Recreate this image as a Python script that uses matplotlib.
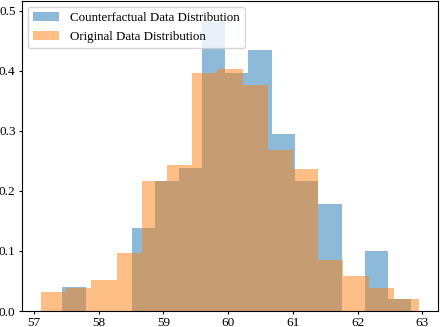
import matplotlib
matplotlib.use("Agg")
import matplotlib.pyplot as plt
import numpy as np

plt.rcParams['font.family'] = ['Liberation Serif', 'DejaVu Serif']

# Counterfactual histogram (density), 15 bins
cf_start = 57.44
cf_end = 62.83
cf_heights = [0.0395, 0.0, 0.0, 0.138, 0.217, 0.238, 0.481, 0.396, 0.434,
              0.295, 0.217, 0.178, 0.0, 0.0995, 0.02]

# Original histogram (density), 15 bins
orig_start = 57.11
orig_end = 62.95
orig_heights = [0.032, 0.038, 0.0517, 0.096, 0.217, 0.243, 0.396, 0.403, 0.377,
                0.268, 0.236, 0.085, 0.058, 0.039, 0.02]

labels = ["Counterfactual Data Distribution", "Original Data Distribution"]

fig = plt.figure(figsize=(4.4, 3.27), dpi=100)
ax = fig.add_axes([22/440, 16/327, 416/440, 310/327])

def draw(start, end, heights, color, label):
    edges = np.linspace(start, end, len(heights) + 1)
    ax.bar(edges[:-1], heights, width=np.diff(edges), align='edge',
           color=color, alpha=0.5, label=label, linewidth=0)

draw(cf_start, cf_end, cf_heights, 'tab:blue', labels[0])
draw(orig_start, orig_end, orig_heights, 'tab:orange', labels[1])

ax.set_ylim(0, 0.516)
ax.set_yticks([0.0, 0.1, 0.2, 0.3, 0.4, 0.5])
ax.set_xticks([57, 58, 59, 60, 61, 62, 63])
ax.tick_params(labelsize=9.5, length=2.4, pad=2.2)
ax.legend(loc='upper left', fontsize=9.4, borderaxespad=0.45)

fig.savefig("out.png", dpi=100)
